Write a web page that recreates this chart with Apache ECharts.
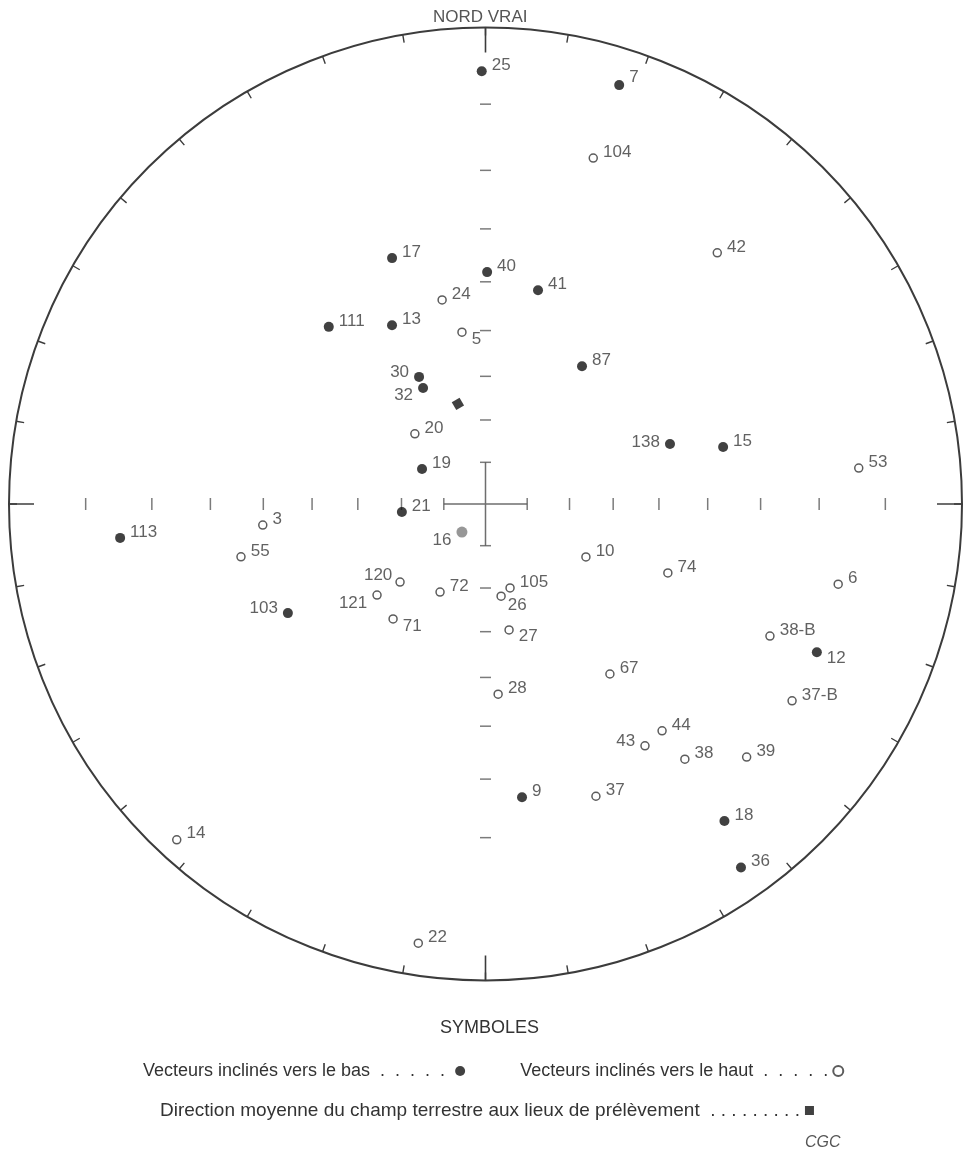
<!DOCTYPE html>
<html>
<head>
<meta charset="utf-8">
<title>Directions de l'aimantation rémanente</title>
<script src="https://cdn.jsdelivr.net/npm/echarts/dist/echarts.min.js"></script>
<style>
  html, body { margin: 0; padding: 0; background: #fff; }
  #chart { width: 969px; height: 1149px; }
</style>
</head>
<body>
<div id="chart"></div>
<script>
// Remanent magnetization directions per site: [site, declination (deg), inclination (deg)]
// Positive inclination = vector pointing downward (lower hemisphere).
const downVectors = [
  ['25', 359.5, 5.5], ['7', 17.7, 4.6], ['17', 339.2, 32.2], ['40', 0.4, 38.1],
  ['41', 13.8, 40.4], ['111', 318.5, 37.2], ['13', 332.4, 44.1], ['87', 35.0, 51.1],
  ['30', 332.4, 56.5], ['32', 331.7, 59.1], ['138', 72.0, 45.7], ['15', 76.5, 35.7],
  ['19', 298.9, 72.7], ['21', 264.5, 70.0], ['113', 264.7, 14.8], ['103', 241.1, 39.3],
  ['12', 114.1, 15.4], ['9', 172.9, 26.4], ['18', 143.0, 10.4], ['36', 144.9, 4.0],
  ['16', 220.0, 81.2]
];

// Negative inclination = vector pointing upward (upper hemisphere).
const upVectors = [
  ['104', 17.3, -15.5], ['42', 42.7, -18.7], ['24', 348.0, -42.7], ['5', 352.2, -50.0],
  ['20', 314.8, -66.4], ['53', 84.5, -13.6], ['3', 264.6, -39.7], ['55', 257.8, -34.6],
  ['10', 117.8, -63.2], ['120', 227.6, -62.7], ['121', 230.0, -56.9], ['72', 207.3, -66.5],
  ['105', 163.7, -69.2], ['26', 170.4, -67.8], ['71', 218.8, -55.6], ['27', 169.4, -59.9],
  ['74', 110.7, -45.5], ['6', 102.8, -15.6], ['38-B', 114.9, -23.3], ['28', 176.2, -46.4],
  ['67', 143.8, -42.3], ['37-B', 122.7, -15.2], ['44', 142.1, -27.8], ['43', 146.6, -27.4],
  ['38', 142.0, -21.6], ['39', 134.1, -15.3], ['37', 159.3, -23.5], ['14', 222.6, -2.5],
  ['22', 188.7, -4.0]
];

// Mean direction of the present earth field at the sampling sites: [declination, inclination]
const meanFieldDirection = [344.6, 65.4];

// Sites drawn in grey (less reliable determination)
const greySites = ['16'];

// Inclination graduations along the cardinal diameters (degrees)
const inclinationTicks = [10, 20, 30, 40, 50, 60, 70, 80];
const cardinalAzimuths = [0, 90, 180, 270];

// Legend captions
const NAME_DOWN = 'Vecteurs inclinés vers le bas';
const NAME_UP = 'Vecteurs inclinés vers le haut';
const NAME_MEAN = 'Direction moyenne du champ terrestre aux lieux de prélèvement';

// ---------------------------------------------------------------------------
// Equal-angle (Wulff) stereographic projection: radius on the unit net
const FONT = "'Liberation Sans', Arial, sans-serif";
const deg = Math.PI / 180;
const wulffRadius = inc => Math.tan((90 - Math.abs(inc)) / 2 * deg);

// Where each site label sits relative to its symbol: [position, dx, dy]
const labelPlacement = {
  '5': ['right', 0, 7], '26': ['right', -3, 9], '12': ['right', 0, 6],
  '71': ['right', 0, 7], '27': ['right', 0, 6],
  '30': ['left', 0, -5], '32': ['left', 0, 7], '138': ['left', 0, -2],
  '16': ['left', 0, 8], '43': ['left', 0, -5], '120': ['left', 2, -7],
  '121': ['left', 0, 8], '103': ['left', 0, -5], '7': ['right', 0, -8]
};
const defaultPlacement = ['right', 0, -6];

function siteItem(entry) {
  const [site, dec, inc] = entry;
  const p = labelPlacement[site] || defaultPlacement;
  const item = {
    name: site,
    value: [wulffRadius(inc), dec],
    label: { position: p[0], offset: [p[1], p[2]] }
  };
  if (greySites.includes(site)) {
    item.itemStyle = { color: '#7d7d7d' };
    item.symbolSize = 11;
  }
  return item;
}

const siteLabel = {
  show: true,
  formatter: '{b}',
  distance: 5,
  fontFamily: FONT,
  fontSize: 17,
  color: '#3a3a3a'
};

// Graduation marks: short bars across each cardinal diameter
const tickData = [];
cardinalAzimuths.forEach(az => {
  inclinationTicks.forEach(inc => {
    if (az === 180 && inc === 10) return;
    tickData.push([wulffRadius(inc), az]);
  });
});

// Central cross joining the 80 degree graduations
const r80 = wulffRadius(80);
const crossSeries = [[[r80, 270], [r80, 90]], [[r80, 0], [r80, 180]]].map(seg => ({
  type: 'line', coordinateSystem: 'polar', silent: true, symbol: 'none',
  data: seg, lineStyle: { color: '#6e6e6e', width: 1.5 }, z: 1
}));

// Long marks at the four cardinal points of the primitive circle
const MAJOR_LEN = 25 / 476.5;
const cardinalSeries = cardinalAzimuths.map(az => ({
  type: 'line', coordinateSystem: 'polar', silent: true, symbol: 'none',
  data: [[1, az], [1 - MAJOR_LEN, az]], lineStyle: { color: '#3c3c3c', width: 1.6 }, z: 1
}));

// Dotted leaders between each caption and its symbol
const leaderFormat = {
  [NAME_DOWN]: { count: 5, sep: '  ', tail: ' ' },
  [NAME_UP]: { count: 5, sep: '  ', tail: '' },
  [NAME_MEAN]: { count: 9, sep: ' ', tail: '' }
};
const legendFormatter = name => {
  const f = leaderFormat[name];
  return name + '  ' + Array(f.count).fill('.').join(f.sep) + f.tail;
};

const option = {
  animation: false,
  backgroundColor: '#fff',
  title: [
    { text: 'NORD VRAI', left: 428, top: 4,
      textStyle: { fontFamily: FONT, fontSize: 17, fontWeight: 'normal', color: '#555' } },
    { text: 'SYMBOLES', left: 435, top: 1014,
      textStyle: { fontFamily: FONT, fontSize: 18, fontWeight: 'normal', color: '#333' } },
    { text: 'CGC', left: 800, top: 1130,
      textStyle: { fontFamily: FONT, fontSize: 16, fontWeight: 'normal', fontStyle: 'italic', color: '#555' } }
  ],
  legend: [
    { data: [NAME_DOWN, NAME_UP], left: 138, top: 1057, align: 'right', orient: 'horizontal',
      itemGap: 55, itemWidth: 10, itemHeight: 10, selectedMode: false,
      formatter: legendFormatter,
      textStyle: { fontFamily: FONT, fontSize: 18, color: '#333' } },
    { data: [NAME_MEAN], left: 155, top: 1096, align: 'right',
      itemWidth: 9, itemHeight: 9, selectedMode: false,
      formatter: legendFormatter,
      textStyle: { fontFamily: FONT, fontSize: 19, color: '#333' } }
  ],
  polar: { center: [485.5, 504], radius: 476.5 },
  angleAxis: {
    type: 'value', min: 0, max: 360, interval: 10, startAngle: 90, clockwise: true,
    axisLine: { show: true, lineStyle: { color: '#3c3c3c', width: 2 } },
    axisTick: { show: true, inside: true, length: 8, lineStyle: { color: '#3c3c3c', width: 1.4 } },
    axisLabel: { show: false },
    splitLine: { show: false }
  },
  radiusAxis: {
    type: 'value', min: 0, max: 1,
    axisLine: { show: false }, axisTick: { show: false },
    axisLabel: { show: false }, splitLine: { show: false }
  },
  series: [
    {
      type: 'scatter', coordinateSystem: 'polar', silent: true, z: 1,
      symbol: 'rect',
      symbolSize: v => (v[1] % 180 === 0 ? [11, 1.5] : [1.5, 12]),
      itemStyle: { color: '#5a5a5a' },
      data: tickData
    },
    ...crossSeries,
    ...cardinalSeries,
    {
      name: NAME_DOWN, type: 'scatter', coordinateSystem: 'polar', z: 3,
      symbol: 'circle', symbolSize: 10,
      itemStyle: { color: '#111111' },
      label: siteLabel,
      data: downVectors.map(siteItem)
    },
    {
      name: NAME_UP, type: 'scatter', coordinateSystem: 'polar', z: 3,
      symbol: 'circle', symbolSize: 8,
      itemStyle: { color: '#ffffff', borderColor: '#333', borderWidth: 1.5 },
      label: siteLabel,
      data: upVectors.map(siteItem)
    },
    {
      name: NAME_MEAN, type: 'scatter', coordinateSystem: 'polar', z: 3,
      symbol: 'rect', symbolSize: 9, symbolRotate: 30,
      itemStyle: { color: '#111' },
      data: [[wulffRadius(meanFieldDirection[1]), meanFieldDirection[0]]]
    }
  ]
};

const chart = echarts.init(document.getElementById('chart'));
chart.setOption(option);
</script>
</body>
</html>
